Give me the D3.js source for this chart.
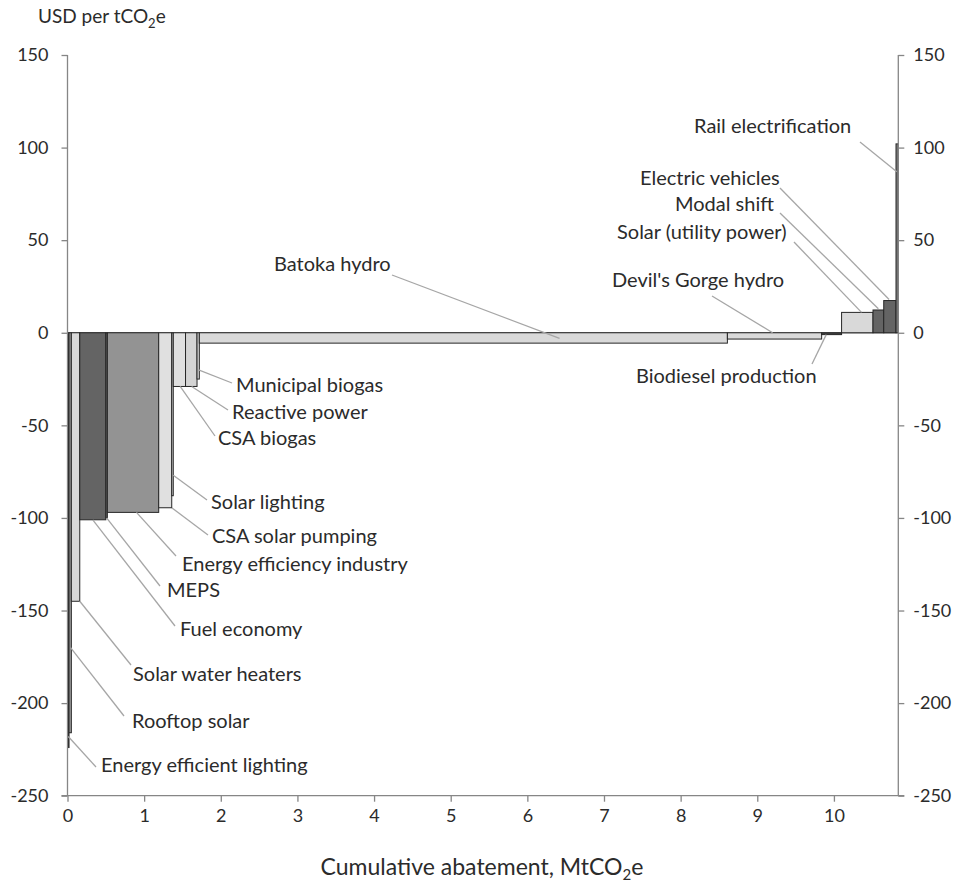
<!DOCTYPE html>
<html>
<head>
<meta charset="utf-8">
<script src="https://cdn.jsdelivr.net/npm/d3@7"></script>
<style>
  body { margin: 0; background: #fff; }
  text { font-family: Lato, "Open Sans", sans-serif; fill: #2b2b2b; }
</style>
</head>
<body>
<div id="plot"></div>
<script>
// measures in cost-curve order (width = abatement MtCO2e, cost = USD per tCO2e)
const measures = ['Energy efficient lighting', 'Rooftop solar', 'Solar water heaters', 'Fuel economy',
    'MEPS', 'Energy efficiency industry', 'CSA solar pumping', 'Solar lighting', 'CSA biogas',
    'Reactive power', 'Municipal biogas', 'Batoka hydro', "Devil's Gorge hydro", 'Biodiesel production',
    'Solar (utility power)', 'Modal shift', 'Electric vehicles', 'Rail electrification'];
const abatement = [0.02, 0.03, 0.11, 0.34, 0.02, 0.67, 0.17, 0.02, 0.16, 0.15, 0.03, 6.89, 1.23, 0.26,
    0.41, 0.14, 0.16, 0.03];
const cost = [-224, -216, -145, -101, -100, -97, -94.5, -88, -29, -29, -25, -5.6, -3.4, -1,
    11, 12.3, 17.4, 102];
// shade of each bar
const shade = ['#1e1e1e', '#a0a0a0', '#d9d9d9', '#646464', '#646464', '#939393', '#e0e0e0', '#d9d9d9',
    '#e0e0e0', '#d4d4d4', '#d9d9d9', '#d9d9d9', '#d9d9d9', '#404040', '#d9d9d9', '#646464', '#646464', '#7f7f7f'];

const yTicks = [-250, -200, -150, -100, -50, 0, 50, 100, 150];
const xTicks = [0, 1, 2, 3, 4, 5, 6, 7, 8, 9, 10];

// label layout: text position (px), leader start (px), leader end on the bar (data units)
const labelLayout = [
    { tx: 101, ty: 767, lx: 96, ly: 767, ax: 0.01, ay: -218 },
    { tx: 132, ty: 723, lx: 124, ly: 716, ax: 0.04, ay: -170 },
    { tx: 133, ty: 676, lx: 131, ly: 665, ax: 0.16, ay: -145 },
    { tx: 180, ty: 631, lx: 175, ly: 626, ax: 0.33, ay: -101 },
    { tx: 167, ty: 592, lx: 160, ly: 586, ax: 0.51, ay: -100 },
    { tx: 182, ty: 566, lx: 176, ly: 556, ax: 0.90, ay: -97 },
    { tx: 212, ty: 538, lx: 208, ly: 535, ax: 1.36, ay: -94.5 },
    { tx: 211, ty: 504, lx: 207, ly: 500, ax: 1.38, ay: -77 },
    { tx: 218, ty: 440, lx: 215, ly: 436, ax: 1.47, ay: -29 },
    { tx: 232, ty: 414, lx: 228, ly: 410, ax: 1.62, ay: -29 },
    { tx: 236, ty: 387, lx: 232, ly: 383, ax: 1.71, ay: -20 },
    { tx: 274, ty: 266, lx: 392, ly: 275, ax: 6.42, ay: -3 },
    { tx: 612, ty: 282, lx: 712, ly: 296, ax: 9.20, ay: 0 },
    { tx: 636, ty: 378, lx: 812, ly: 364, ax: 9.90, ay: -1 },
    { tx: 617, ty: 234, lx: 794, ly: 242, ax: 10.36, ay: 11 },
    { tx: 675, ty: 206, lx: 780, ly: 213, ax: 10.58, ay: 13 },
    { tx: 640, ty: 180, lx: 780, ly: 188, ax: 10.72, ay: 18 },
    { tx: 694, ty: 128, lx: 860, ly: 142, ax: 10.82, ay: 87 }
];

const width = 960, height = 894;
const axisColor = '#868686';

// build cumulative bars
let start = 0;
const data = measures.map((name, i) => {
    const d = { name: name, x0: start, x1: start + abatement[i], cost: cost[i], fill: shade[i] };
    start += abatement[i];
    return d;
});

const svg = d3.select('#plot').append('svg')
    .attr('width', width)
    .attr('height', height);

const x = d3.scaleLinear().domain([0, 10.84]).range([67.5, 898.3]);
const y = d3.scaleLinear().domain([-250, 150]).range([795.7, 55]);

// zero line
svg.append('line')
    .attr('x1', x(0)).attr('x2', x(10.84))
    .attr('y1', y(0)).attr('y2', y(0))
    .attr('stroke', axisColor).attr('stroke-width', 1.3);

// bars
svg.append('g').selectAll('rect')
    .data(data)
    .enter()
    .append('rect')
    .attr('x', d => x(d.x0))
    .attr('width', d => x(d.x1) - x(d.x0))
    .attr('y', d => y(Math.max(0, d.cost)))
    .attr('height', d => Math.abs(y(d.cost) - y(0)))
    .attr('fill', d => d.fill)
    .attr('stroke', '#262626')
    .attr('stroke-width', 1);

// axes
function styleAxis(g) {
    g.select('.domain').remove();
    g.selectAll('.tick line').attr('stroke', axisColor).attr('stroke-width', 1.3);
    g.selectAll('.tick text').style('font-size', '18px').attr('fill', '#2b2b2b');
}
// plain hyphen for negatives, as in the source
const fmt = d => String(d);

let yLeft = d3.axisLeft(y).tickValues(yTicks).tickFormat(fmt).tickSize(6).tickPadding(13);
svg.append('g')
    .attr('transform', `translate(${x(0)},0)`)
    .call(yLeft)
    .call(styleAxis);

let yRight = d3.axisRight(y).tickValues(yTicks).tickFormat(fmt).tickSize(6).tickPadding(9);
svg.append('g')
    .attr('transform', `translate(${x(10.84)},0)`)
    .call(yRight)
    .call(styleAxis);

let xAxis = d3.axisBottom(x).tickValues(xTicks).tickFormat(fmt).tickSize(6).tickPadding(8);
svg.append('g')
    .attr('transform', `translate(0,${y(-250)})`)
    .call(xAxis)
    .call(styleAxis);

// axis lines
svg.append('line')
    .attr('x1', x(0)).attr('x2', x(0)).attr('y1', y(150)).attr('y2', y(-250))
    .attr('stroke', axisColor).attr('stroke-width', 1.3);
svg.append('line')
    .attr('x1', x(10.84)).attr('x2', x(10.84)).attr('y1', y(150)).attr('y2', y(-250))
    .attr('stroke', axisColor).attr('stroke-width', 1.3);
svg.append('line')
    .attr('x1', x(0) - 6).attr('x2', x(10.84) + 6).attr('y1', y(-250)).attr('y2', y(-250))
    .attr('stroke', axisColor).attr('stroke-width', 1.3);

// leaders and labels
const labels = svg.append('g');
data.forEach((d, i) => {
    const p = labelLayout[i];
    labels.append('line')
        .attr('x1', p.lx).attr('y1', p.ly)
        .attr('x2', x(p.ax)).attr('y2', y(p.ay))
        .attr('stroke', '#a6a6a6').attr('stroke-width', 1.3);
    labels.append('text')
        .attr('x', p.tx).attr('y', p.ty)
        .attr('dominant-baseline', 'middle')
        .style('font-size', '20px')
        .text(d.name);
});

// axis titles
const yTitle = svg.append('text')
    .attr('x', 38).attr('y', 23)
    .style('font-size', '19px');
yTitle.append('tspan').text('USD per tCO');
yTitle.append('tspan').attr('dy', 5).style('font-size', '13px').text('2');
yTitle.append('tspan').attr('dy', -5).text('e');

const xTitle = svg.append('text')
    .attr('x', 482).attr('y', 875)
    .attr('text-anchor', 'middle')
    .style('font-size', '23px');
xTitle.append('tspan').text('Cumulative abatement, MtCO');
xTitle.append('tspan').attr('dy', 5).style('font-size', '15px').text('2');
xTitle.append('tspan').attr('dy', -5).text('e');
</script>
</body>
</html>
